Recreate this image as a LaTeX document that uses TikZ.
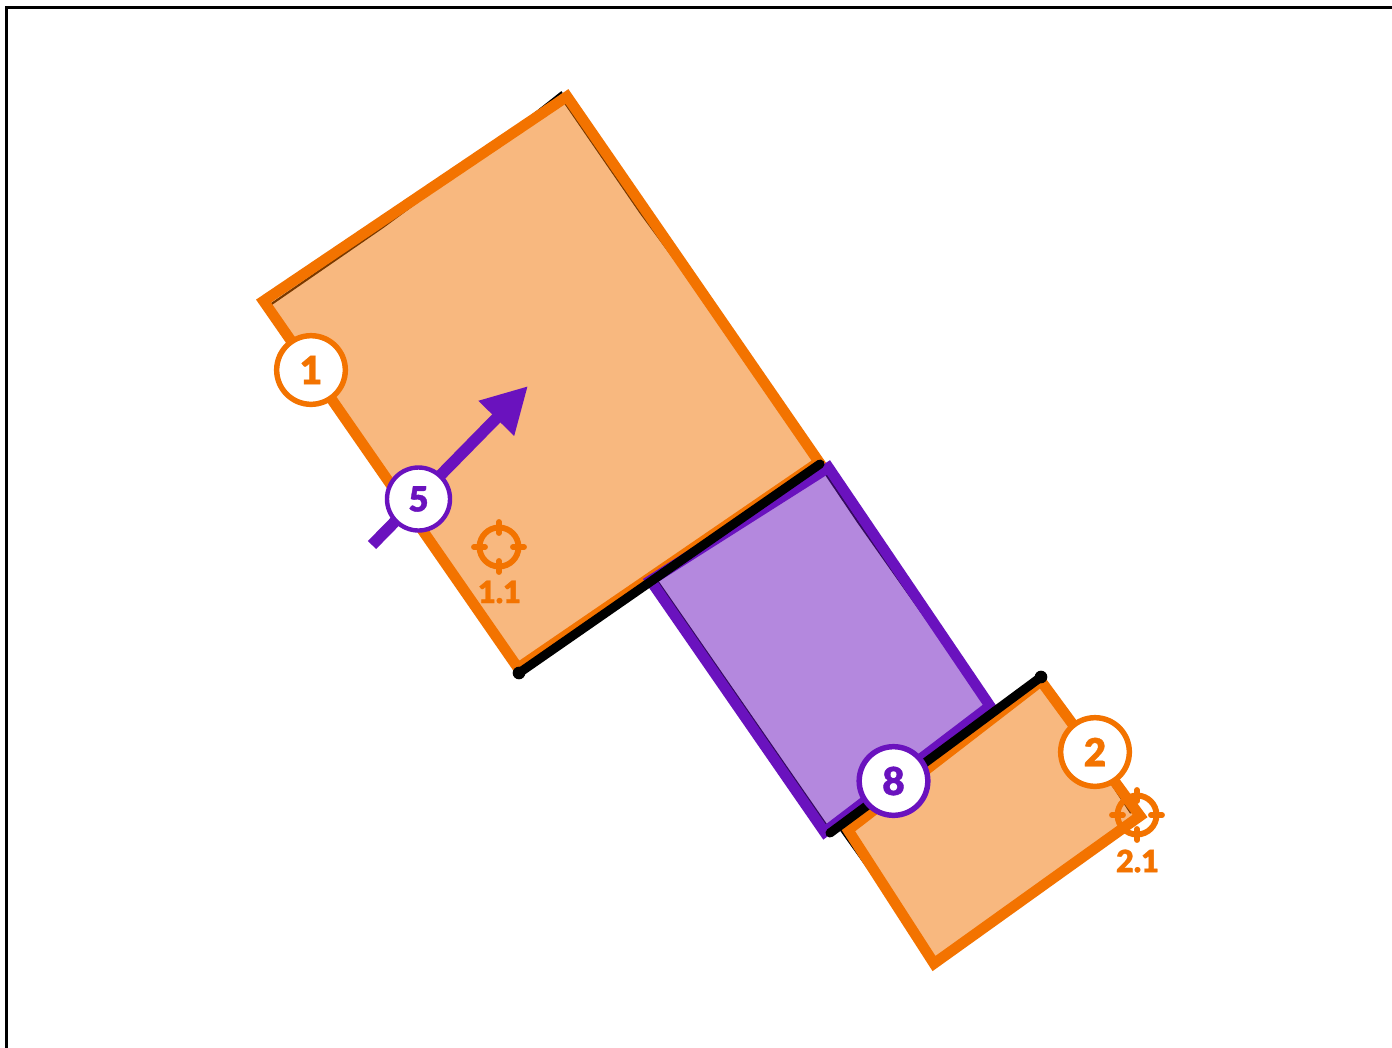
\documentclass[tikz,border=0pt]{standalone}
\usepackage{fontspec}
\setmainfont{Lato}
\newfontfamily\badgefont[FakeBold=1]{Lato Black}
\usepackage{xcolor}
\usepackage{tikz}
\usetikzlibrary{arrows.meta}
\definecolor{zoneorange}{HTML}{F37300}
\definecolor{zonepurple}{HTML}{6A12BE}

\begin{document}
\begin{tikzpicture}[
  x=0.75pt, y=-0.75pt,
  frame/.style={draw=black, line width=1.9pt},
  outline/.style={draw=black, line width=1.6pt},
  zone/.style={line width=8pt, miter limit=10, fill opacity=0.5, draw opacity=1, line join=miter},
  wall/.style={draw=black, line width=6.8pt, line cap=round},
  walldot/.style={circle, fill=black, inner sep=0pt, minimum size=9.5pt},
  badge/.style={circle, draw=#1, fill=white, text=#1, line width=4.1pt, inner sep=0pt, minimum size=51.5pt, font=\fontsize{29}{29}\badgefont},
  ticklabel/.style={text=zoneorange, inner sep=0pt, font=\fontsize{23}{23}\badgefont},
  target/.pic={
    \draw[zoneorange, line width=4.4pt] (0,0) circle (19.5);
    \draw[zoneorange, line width=4.4pt, line cap=round] (-25,0) -- (-14,0) (14,0) -- (25,0) (0,-25) -- (0,-14) (0,14) -- (0,25);
  }
]
\clip (0,0) rectangle (1392,1047);
\fill[white] (0,0) rectangle (1392,1047);
\draw[frame] (6.3,7.5) rectangle (1420,1080);

% corners
\coordinate (a1) at (567,96.5);
\coordinate (a2) at (263.5,301);
\coordinate (a3) at (518,668);
\coordinate (a4) at (819,462);
\coordinate (b1) at (828.5,467.5);
\coordinate (b2) at (650.5,580.5);
\coordinate (b3) at (824.5,832);
\coordinate (b4) at (990,706);
\coordinate (c1) at (1041,681);
\coordinate (c2) at (1140,816);
\coordinate (c3) at (934,963.5);
\coordinate (c4) at (848,830);

% thin lines under the fills
\draw[outline] (270,305) -- (383,227) -- (500,141) -- (562,92);
\draw[outline] (563,100) -- (640,212) -- (822,460);
\draw[outline] (658,582) -- (827,826);
\draw[outline] (823,470) -- (858,522) -- (992,712);
\draw[outline] (1041,677) -- (1131,813);
\draw[outline] (838,826) -- (935,962);

\draw[zone, draw=zoneorange, fill=zoneorange] (a1) -- (a2) -- (a3) -- (a4) -- cycle;
\draw[zone, draw=zonepurple, fill=zonepurple] (b1) -- (b2) -- (b3) -- (b4) -- cycle;
\draw[zone, draw=zoneorange, fill=zoneorange] (c1) -- (c2) -- (c3) -- (c4) -- cycle;

\node[walldot] (w1) at (519,673) {};
\node[walldot, minimum size=6pt] (w2) at (820,464) {};
\node[walldot, minimum size=6pt] (w3) at (830,833) {};
\node[walldot] (w4) at (1041,677) {};
\draw[wall] (w1.center) -- (w2.center);
\draw[wall] (w3.center) -- (w4.center);

\coordinate (tail) at (372,545);
\coordinate (head) at (528,386);
\draw[zonepurple, line width=8.6pt, -{Triangle[length=34pt, width=35pt]}] (tail) -- (head);

\pic at (499,547) {target};
\node[ticklabel] (t1) at (499.5,592) {1.1};
\pic at (1137,815) {target};
\node[ticklabel] (t2) at (1137.5,861) {2.1};

\node[badge=zoneorange] (n1) at (311,370) {1};
\node[badge=zonepurple, minimum size=47.25pt, line width=3.3pt, font=\fontsize{26}{26}\badgefont] (n5) at (418.5,499) {5};
\node[badge=zoneorange] (n2) at (1095,752) {2};
\node[badge=zonepurple] (n8) at (893.5,781) {8};
\end{tikzpicture}
\end{document}
